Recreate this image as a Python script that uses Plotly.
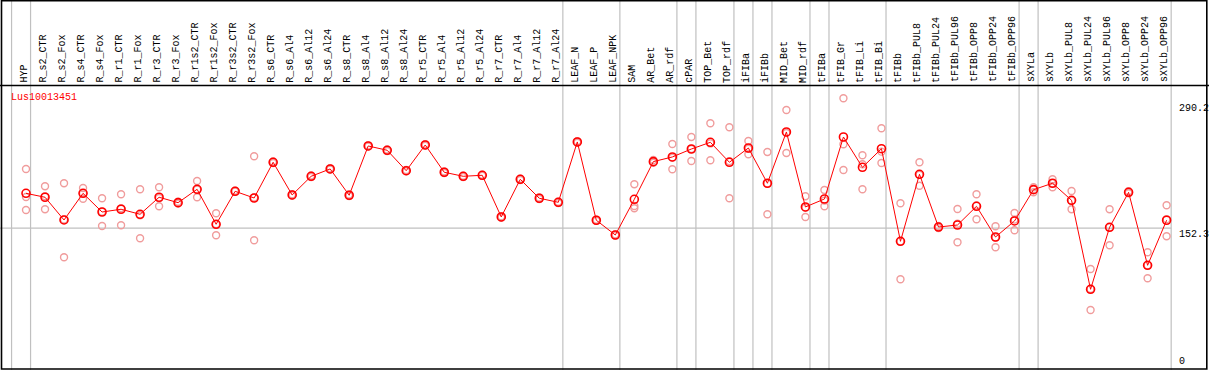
import plotly.graph_objects as go

categories = ["HYP", "R_s2_CTR", "R_s2_Fox", "R_s4_CTR", "R_s4_Fox", "R_r1_CTR", "R_r1_Fox",
              "R_r3_CTR", "R_r3_Fox", "R_r1s2_CTR", "R_r1s2_Fox", "R_r3s2_CTR", "R_r3s2_Fox",
              "R_s6_CTR", "R_s6_Al4", "R_s6_Al12", "R_s6_Al24", "R_s8_CTR", "R_s8_Al4", "R_s8_Al12",
              "R_s8_Al24", "R_r5_CTR", "R_r5_Al4", "R_r5_Al12", "R_r5_Al24", "R_r7_CTR", "R_r7_Al4",
              "R_r7_Al12", "R_r7_Al24", "LEAF_N", "LEAF_P", "LEAF_NPK", "SAM", "AR_Bet", "AR_rdf",
              "cPAR", "TOP_Bet", "TOP_rdf", "iFIBa", "iFIBb", "MID_Bet", "MID_rdf", "tFIBa",
              "tFIB_Gr", "tFIB_Li", "tFIB_Bi", "tFIBb", "tFIBb_PUL8", "tFIBb_PUL24", "tFIBb_PUL96",
              "tFIBb_OPP8", "tFIBb_OPP24", "tFIBb_OPP96", "sXYLa", "sXYLb", "sXYLb_PUL8",
              "sXYLb_PUL24", "sXYLb_PUL96", "sXYLb_OPP8", "sXYLb_OPP24", "sXYLb_OPP96"]

means = [190.2, 185.9, 161.1, 190.2, 169.8, 172.8, 167.3, 185.9, 180.0, 194.6,
         156.4, 192.4, 185.1, 224.1, 188.4, 208.8, 216.8, 188.1, 241.9, 237.2,
         214.9, 243.0, 213.2, 208.8, 209.9, 164.4, 205.5, 184.8, 180.4, 246.3,
         160.8, 144.7, 183.7, 224.8, 229.9, 238.6, 245.9, 224.1, 239.7, 201.2,
         257.2, 175.3, 184.0, 251.7, 218.6, 238.9, 137.8, 211.0, 153.4, 155.6,
         176.0, 142.5, 160.0, 194.2, 201.2, 182.6, 85.4, 153.1, 191.3, 111.6,
         160.8]

rep_a = [216.8, 197.9, 201.2, 196.0, 184.8, 189.2, 194.6, 196.8, 181.0, 203.7,
         168.4, 193.0, 230.7, 225.0, 189.2, 209.6, 217.5, 188.9, 242.6, 238.0,
         215.6, 243.8, 214.0, 209.5, 210.6, 165.2, 206.2, 185.6, 181.1, 247.1,
         161.5, 145.4, 200.1, 226.6, 244.1, 251.7, 266.7, 262.3, 247.4, 235.3,
         281.2, 187.0, 193.8, 294.0, 231.7, 261.2, 179.3, 224.1, 154.5, 173.1,
         189.2, 154.2, 168.7, 196.8, 205.5, 192.8, 107.6, 172.8, 192.4, 125.8,
         177.1]
rep_b = [186.2, 187.0, 161.7, 190.3, 170.1, 173.9, 166.2, 184.9, 180.0, 194.2,
         156.4, 192.4, 185.7, 224.1, 188.4, 208.8, 216.8, 188.1, 241.9, 237.2,
         214.9, 243.0, 213.2, 208.8, 209.9, 164.4, 205.5, 184.8, 180.4, 246.3,
         160.8, 144.7, 176.4, 224.3, 229.1, 238.6, 244.7, 225.2, 238.9, 201.0,
         256.1, 174.5, 182.2, 243.8, 222.0, 235.7, 137.8, 210.4, 153.4, 157.0,
         176.9, 142.0, 161.5, 194.5, 201.3, 182.2, 85.8, 153.0, 191.3, 111.6,
         162.0]
rep_c = [172.0, 172.8, 120.4, 184.3, 154.5, 155.3, 141.1, 176.0, 179.0, 185.9,
         144.4, 192.0, 138.9, 223.2, 187.6, 208.0, 216.1, 187.3, 241.2, 236.4,
         214.2, 242.2, 212.4, 208.1, 209.2, 163.6, 204.8, 184.0, 179.7, 245.5,
         160.1, 144.0, 173.9, 223.5, 216.5, 225.5, 226.3, 184.8, 232.8, 167.3,
         234.3, 164.4, 176.0, 215.7, 194.6, 223.3, 96.3, 198.5, 152.3, 136.7,
         161.9, 131.3, 149.8, 191.3, 196.8, 172.8, 62.8, 133.5, 190.2, 97.4,
         143.3]

# last category index of each group (-1 marks the start)
group_ends = [-1, 0, 28, 31, 34, 35, 37, 38, 39, 41, 42, 45, 52, 53, 60]

ytick_vals = [0, 152.3, 290.2]
ytick_text = ["0", "152.3", "290.2"]
gene_label = "Lus10013451"

W, H = 1209, 370
x_range = [-1.368, 62.23]
y_range = [-2.73, 401.3]

idx = list(range(len(categories)))
fig = go.Figure()

for reps in (rep_a, rep_b, rep_c):
    fig.add_trace(go.Scatter(
        x=idx, y=reps, mode="markers", hoverinfo="skip", showlegend=False,
        marker=dict(symbol="circle-open", size=7, color="#f09c9c", line=dict(width=1.4, color="#f09c9c")),
    ))

fig.add_trace(go.Scatter(
    x=idx, y=means, mode="lines+markers", showlegend=False,
    line=dict(color="#ff0000", width=1),
    marker=dict(symbol="circle-open", size=8, color="#ff0000", line=dict(width=1.6, color="#ff0000")),
))

shapes = []
grey = "#c0c0c0"
for g in group_ends:
    shapes.append(dict(type="line", xref="x", yref="paper", x0=g + 0.24, x1=g + 0.24,
                       y0=0, y1=1, line=dict(color=grey, width=1.2), layer="below"))
# horizontal reference line
shapes.append(dict(type="line", xref="x", yref="y", x0=x_range[0], x1=group_ends[-1] + 0.24,
                   y0=ytick_vals[1], y1=ytick_vals[1], line=dict(color=grey, width=1.2), layer="below"))
# header separator
shapes.append(dict(type="line", xref="paper", yref="paper", x0=0, x1=1,
                   y0=1 - 85.5 / H, y1=1 - 85.5 / H, line=dict(color="black", width=1.5)))
# frame
shapes.append(dict(type="rect", xref="paper", yref="paper", x0=1.5 / W, x1=1206.8 / W,
                   y0=1 - 369 / H, y1=1 - 0.6 / H, line=dict(color="black", width=1.6)))

annotations = []
mono = "Liberation Mono"
for i, c in enumerate(categories):
    annotations.append(dict(x=i, y=1 - 83.5 / H, xref="x", yref="paper", text=c, showarrow=False,
                            textangle=-90, xanchor="center", yanchor="bottom", xshift=-2, borderpad=0,
                            font=dict(family=mono, size=10, color="black")))
for v, t in zip(ytick_vals, ytick_text):
    annotations.append(dict(x=1178 / W, y=v, xref="paper", yref="y", text=t, showarrow=False,
                            xanchor="left", yanchor="bottom" if v == 0 else "top", borderpad=0,
                            font=dict(family=mono, size=10, color="black")))
annotations.append(dict(x=10 / W, y=1 - 97 / H, xref="paper", yref="paper", text=gene_label,
                        showarrow=False, xanchor="left", yanchor="middle", borderpad=0,
                        font=dict(family=mono, size=10, color="#ff0000")))

fig.update_layout(
    width=W, height=H, margin=dict(l=0, r=0, t=0, b=0, pad=0),
    paper_bgcolor="white", plot_bgcolor="white",
    xaxis=dict(range=x_range, visible=False, showgrid=False, zeroline=False),
    yaxis=dict(range=y_range, visible=False, showgrid=False, zeroline=False),
    shapes=shapes, annotations=annotations,
)

fig.write_html("out.html", config={"displayModeBar": False},
               post_script="document.body.style.margin='0';document.body.style.overflow='hidden';")
